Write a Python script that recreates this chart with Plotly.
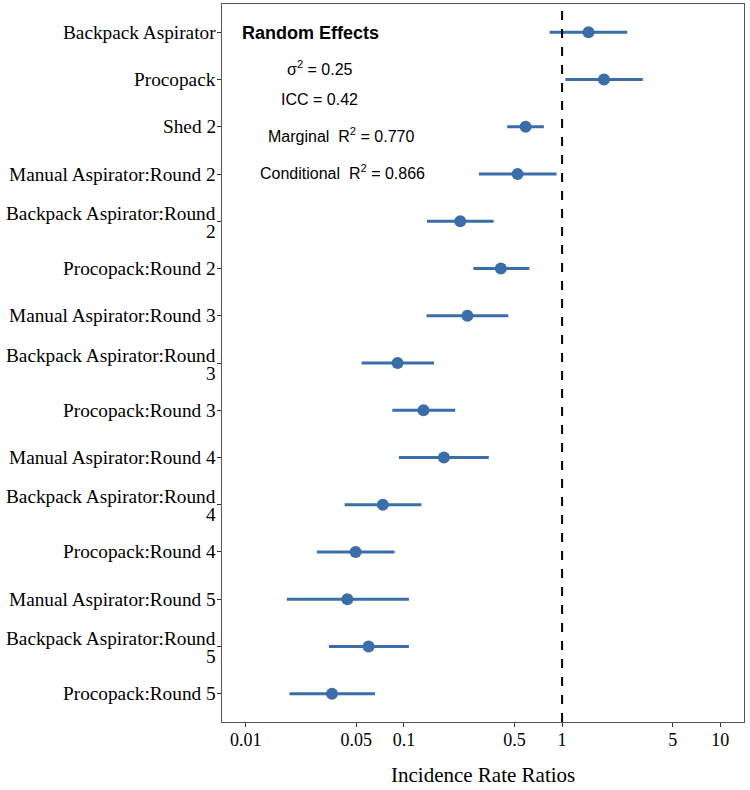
import plotly.graph_objects as go

terms = [
    "Backpack Aspirator", "Procopack", "Shed 2", "Manual Aspirator:Round 2",
    "Backpack Aspirator:Round 2", "Procopack:Round 2", "Manual Aspirator:Round 3",
    "Backpack Aspirator:Round 3", "Procopack:Round 3", "Manual Aspirator:Round 4",
    "Backpack Aspirator:Round 4", "Procopack:Round 4", "Manual Aspirator:Round 5",
    "Backpack Aspirator:Round 5", "Procopack:Round 5",
]
# labels as printed (long ones wrapped onto two lines)
term_labels = [
    ["Backpack Aspirator"], ["Procopack"], ["Shed 2"], ["Manual Aspirator:Round 2"],
    ["Backpack Aspirator:Round", "2"], ["Procopack:Round 2"], ["Manual Aspirator:Round 3"],
    ["Backpack Aspirator:Round", "3"], ["Procopack:Round 3"], ["Manual Aspirator:Round 4"],
    ["Backpack Aspirator:Round", "4"], ["Procopack:Round 4"], ["Manual Aspirator:Round 5"],
    ["Backpack Aspirator:Round", "5"], ["Procopack:Round 5"],
]
estimate = [1.47, 1.84, 0.588, 0.523, 0.227, 0.410, 0.252, 0.0912, 0.133, 0.179,
            0.0736, 0.0495, 0.0439, 0.0598, 0.0351]
conf_low = [0.834, 1.05, 0.450, 0.298, 0.140, 0.275, 0.139, 0.054, 0.0845, 0.093,
            0.0422, 0.0282, 0.0182, 0.0336, 0.0189]
conf_high = [2.58, 3.24, 0.767, 0.923, 0.369, 0.621, 0.457, 0.155, 0.211, 0.344,
             0.129, 0.0873, 0.1076, 0.1076, 0.0656]
x_ticks = [0.01, 0.05, 0.1, 0.5, 1, 5, 10]
x_tick_labels = ["0.01", "0.05", "0.1", "0.5", "1", "5", "10"]
stats_lines = ["σ<sup>2</sup> = 0.25", "ICC = 0.42", "Marginal  R<sup>2</sup> = 0.770",
               "Conditional  R<sup>2</sup> = 0.866"]

COL = "#3a6ea8"
L, R, T, B = 222, 6, 4, 68
W, H = 750, 790
pw, ph = W - L - R, H - T - B
SERIF = "Liberation Serif, Times New Roman"
SANS = "Liberation Sans, Arial"

fig = go.Figure()

# confidence intervals
xs, ys = [], []
for t, lo, hi in zip(terms, conf_low, conf_high):
    xs += [lo, hi, None]
    ys += [t, t, None]
fig.add_trace(go.Scatter(x=xs, y=ys, mode="lines", line=dict(color=COL, width=3),
                         hoverinfo="skip", showlegend=False))
fig.add_trace(go.Scatter(x=estimate, y=terms, mode="markers",
                         marker=dict(color=COL, size=12), showlegend=False))

fig.add_vline(x=1, line=dict(color="black", width=2, dash="dash"))

def px2paper(px, py):
    return (px - L) / pw, 1 - (py - T) / ph

ann = []
# y tick labels
for t, lines in zip(terms, term_labels):
    if len(lines) == 1:
        shifts = [0]
    else:
        shifts = [8, -10]
    for txt, ysh in zip(lines, shifts):
        ann.append(dict(x=0, xref="paper", y=t, yref="y", text=txt, showarrow=False,
                        xanchor="right", yanchor="middle", xshift=-5, yshift=ysh,
                        borderpad=0,
                        font=dict(family=SERIF, size=19.3, color="black")))

x0, y0 = px2paper(240, 33)
ann.append(dict(x=x0, y=y0, xref="paper", yref="paper", text="<b>Random Effects</b>",
                showarrow=False, xanchor="left", yanchor="middle",
                font=dict(family=SANS, size=18, color="black")))
centers = [(320, 68), (319, 99), (341, 135), (342, 172)]
for txt, (cx, cy) in zip(stats_lines, centers):
    xx, yy = px2paper(cx, cy)
    ann.append(dict(x=xx, y=yy, xref="paper", yref="paper", text=txt, showarrow=False,
                    xanchor="center", yanchor="middle",
                    font=dict(family=SANS, size=16, color="black")))

# x-axis title
tx, ty = px2paper(483, 775)
ann.append(dict(x=tx, y=ty, xref="paper", yref="paper", text="Incidence Rate Ratios",
                showarrow=False, xanchor="center", yanchor="middle",
                font=dict(family=SERIF, size=21, color="black")))

fig.update_layout(
    width=W, height=H,
    margin=dict(l=L, r=R, t=T, b=B),
    plot_bgcolor="white", paper_bgcolor="white",
    annotations=ann,
    xaxis=dict(type="log", range=[-2.15, 1.15], tickvals=x_ticks, ticktext=x_tick_labels,
               automargin=False, ticklabelstandoff=-3,
               showgrid=False, zeroline=False, showline=True, mirror=True,
               linecolor="#555555", linewidth=1, ticks="outside", ticklen=4,
               tickcolor="#333333",
               tickfont=dict(family=SERIF, size=18, color="black")),
    yaxis=dict(type="category", categoryorder="array", categoryarray=terms,
               automargin=False, showticklabels=False,
               range=[len(terms) - 0.4, -0.6], showgrid=False, zeroline=False,
               showline=True, mirror=True, linecolor="#555555", linewidth=1,
               ticks="outside", ticklen=4, tickcolor="#333333"),
)

fig.write_html("out.html", config={"displayModeBar": False},
               post_script="document.body.style.margin='0';document.body.style.overflow='hidden';")
